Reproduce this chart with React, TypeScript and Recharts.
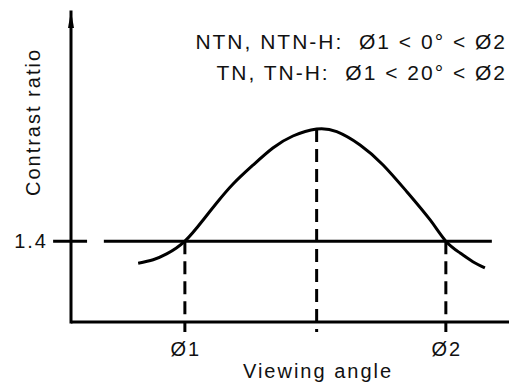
import { ComposedChart, Line, XAxis, YAxis, ReferenceLine, ReferenceDot, Label } from "recharts"

// viewing angle (schematic units) vs contrast ratio
const viewingAngle = [18.4, 22.5, 26.2, 31.2, 36.2, 39.9, 44.4, 49.9, 55.3, 60.8, 67.3, 72.8, 79.2, 85.5, 92.0, 98.4, 102.7, 106.6, 110.1, 113.4]
const contrastRatio = [1.236, 1.262, 1.305, 1.4, 1.557, 1.683, 1.824, 1.965, 2.091, 2.18, 2.232, 2.212, 2.113, 1.965, 1.767, 1.557, 1.4, 1.312, 1.247, 1.201]

const phi1 = 31.2
const phi2 = 102.7
const peakAngle = 67.3
const peakRatio = 2.232
const threshold = 1.4

const angleTicks = [phi1, phi2]
const angleTickLabels = ["Ø1", "Ø2"]
const ratioTicks = [threshold]
const notes = ["NTN, NTN-H:  Ø1 < 0° < Ø2", "TN, TN-H:  Ø1 < 20° < Ø2"]

const angleDomain = [0, 120]
const ratioDomain = [0.8, 3.1]
const tickBottom = 0.726

const data = viewingAngle.map((a, i) => ({ angle: a, ratio: contrastRatio[i] }))

const INK = "#000"
const TEXT = "#111"
const FONT = "'Liberation Sans', Arial, sans-serif"

const AngleTick = (props: any) => {
  const { x, y, payload } = props
  return (
    <text x={x + 1} y={y + 34} textAnchor="middle" fontSize={20} fill={TEXT} fontFamily={FONT} letterSpacing={2}>
      {angleTickLabels[angleTicks.indexOf(payload.value)]}
    </text>
  )
}

const RatioTick = (props: any) => {
  const { x, y, payload } = props
  return (
    <text x={x + 2} y={y + 7} textAnchor="end" fontSize={20} fill={TEXT} fontFamily={FONT} letterSpacing={2}>
      {payload.value.toFixed(1)}
    </text>
  )
}

export default function App() {
  return (
    <div style={{ position: "absolute", left: 0, top: 0, fontFamily: FONT, letterSpacing: "2px" }}>
      <ComposedChart width={509} height={385} data={data} margin={{ top: 12, right: 0, left: 0, bottom: 23 }}>
        <XAxis
          type="number"
          dataKey="angle"
          domain={angleDomain}
          allowDataOverflow
          ticks={angleTicks}
          height={40}
          tickLine={false}
          tickMargin={0}
          tickSize={0}
          tick={<AngleTick />}
          axisLine={{ stroke: INK, strokeWidth: 3 }}
        >
          <Label
            content={(props: any) => {
              const vb = props.viewBox
              return (
                <text x={vb.x + 247} y={vb.y + 56} textAnchor="middle" fontSize={20} fill={TEXT} fontFamily={FONT}>
                  Viewing angle
                </text>
              )
            }}
          />
        </XAxis>
        <YAxis
          type="number"
          domain={ratioDomain}
          allowDataOverflow
          ticks={ratioTicks}
          width={71}
          tickLine={false}
          tickSize={0}
          tickMargin={25}
          tick={<RatioTick />}
          axisLine={{ stroke: INK, strokeWidth: 3, strokeLinecap: "square" }}
        >
          <Label
            content={(props: any) => {
              const vb = props.viewBox
              const cx = vb.x + 40
              const cy = vb.y + 110
              return (
                <text
                  x={cx}
                  y={cy}
                  transform={`rotate(-90, ${cx}, ${cy})`}
                  textAnchor="middle"
                  fontSize={20}
                  fill={TEXT}
                  fontFamily={FONT}
                >
                  Contrast ratio
                </text>
              )
            }}
          />
        </YAxis>

        {/* 1.4 threshold: short tick across the axis, then the long line */}
        <ReferenceLine
          segment={[{ x: -4.9, y: threshold }, { x: 4.4, y: threshold }]}
          stroke={INK}
          strokeWidth={3}
          ifOverflow="visible"
        />
        <ReferenceLine
          segment={[{ x: 9.0, y: threshold }, { x: 115.3, y: threshold }]}
          stroke={INK}
          strokeWidth={3}
          ifOverflow="visible"
        />

        <ReferenceLine
          segment={[{ x: phi1, y: threshold }, { x: phi1, y: tickBottom }]}
          stroke={INK}
          strokeWidth={3}
          strokeDasharray="13 7"
          ifOverflow="visible"
        />
        <ReferenceLine
          segment={[{ x: peakAngle, y: peakRatio }, { x: peakAngle, y: tickBottom }]}
          stroke={INK}
          strokeWidth={3}
          strokeDasharray="13 7"
          ifOverflow="visible"
        />
        <ReferenceLine
          segment={[{ x: phi2, y: threshold }, { x: phi2, y: tickBottom }]}
          stroke={INK}
          strokeWidth={3}
          strokeDasharray="13 7"
          ifOverflow="visible"
        />

        <Line
          type="natural"
          dataKey="ratio"
          stroke={INK}
          strokeWidth={3}
          dot={false}
          activeDot={false}
          isAnimationActive={false}
        />

        {/* arrow head on the y axis */}
        <ReferenceDot
          x={angleDomain[0]}
          y={ratioDomain[1]}
          r={0}
          ifOverflow="visible"
          shape={(p: any) => (
            <path d={`M${p.cx},${p.cy - 1} L${p.cx - 3},${p.cy + 16} L${p.cx + 3},${p.cy + 16} Z`} fill={INK} />
          )}
        />

        {/* notes, top right */}
        <ReferenceDot
          x={angleDomain[1]}
          y={ratioDomain[1]}
          r={0}
          ifOverflow="visible"
          shape={(p: any) => (
            <g>
              {notes.map((t, i) => (
                <text
                  key={t}
                  x={p.cx - 2}
                  y={p.cy + 37 + i * 31}
                  textAnchor="end"
                  fontSize={21}
                  fill={TEXT}
                  fontFamily={FONT}
                  style={{ whiteSpace: "pre" }}
                >
                  {t}
                </text>
              ))}
            </g>
          )}
        />
      </ComposedChart>
    </div>
  )
}
